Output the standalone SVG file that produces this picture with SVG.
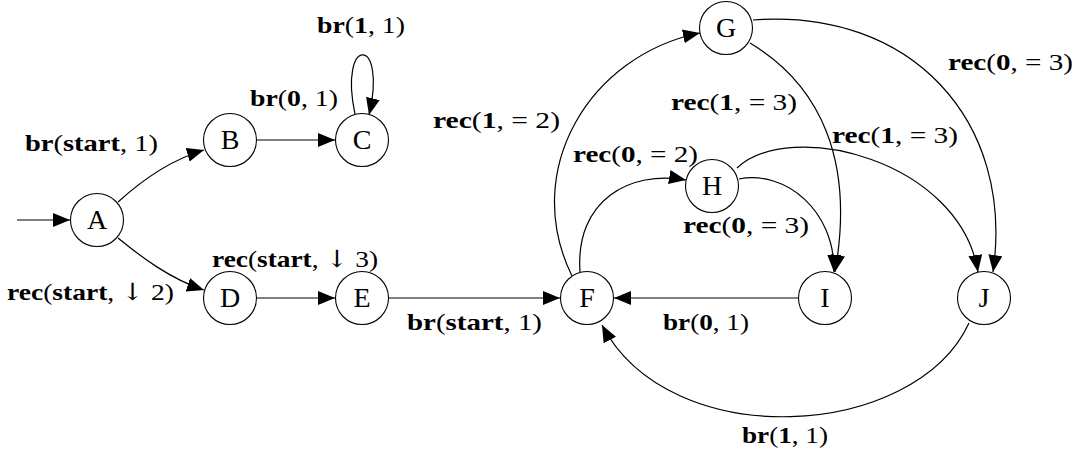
<svg xmlns="http://www.w3.org/2000/svg" width="1076" height="457" viewBox="0 0 1076 457">
<style>
.node circle{fill:#fff;stroke:#000;stroke-width:1.1}
.node text{font-family:"Liberation Serif",serif;font-size:28px;text-anchor:middle;fill:#000}
.edge{fill:none;stroke:#000;stroke-width:1.2;marker-end:url(#ah)}
.lbl{font-family:"Liberation Serif","DejaVu Serif",serif;font-size:24px;fill:#000}
.b{font-weight:bold}
.ar{font-family:"DejaVu Serif",serif;font-size:24px}
</style>
<defs>
<marker id="ah" markerUnits="userSpaceOnUse" markerWidth="17" markerHeight="14" refX="17" refY="7" orient="auto" viewBox="0 0 17 14">
<path d="M0,0 L17,7 L0,14 Z" fill="#000"/>
</marker>
</defs>
<rect width="1076" height="457" fill="#fff"/>
<g id="connectors">
<path class="edge" d="M17,220 L70,220"/>
<path class="edge" d="M118,202 C140,182 170,160 204,150"/>
<path class="edge" d="M118,238 C140,256 170,279 204,290"/>
<path class="edge" d="M257,140 L335,140"/>
<path class="edge" d="M355,114 C338,35 388,35 369,115"/>
<path class="edge" d="M257,298 L335,298"/>
<path class="edge" d="M389,298 L560,298"/>
<path class="edge" d="M798,298 L614,298"/>
<path class="edge" d="M969,323 C915,440 670,455 602,325"/>
<path class="edge" d="M572,276 C520,170 590,55 700,33"/>
<path class="edge" d="M580,272 C575,200 630,170 686,180"/>
<path class="edge" d="M750,43 C820,85 855,160 835,272"/>
<path class="edge" d="M739,179 C785,170 835,210 834,272"/>
<path class="edge" d="M737,168 C790,118 960,160 978,272"/>
<path class="edge" d="M753,20 C910,8 1015,120 993,272"/>
<text class="lbl" x="25" y="151" textLength="133" lengthAdjust="spacingAndGlyphs"><tspan class="b">br</tspan>(<tspan class="b">start</tspan>, 1)</text>
<text class="lbl" x="250" y="106" textLength="88" lengthAdjust="spacingAndGlyphs"><tspan class="b">br</tspan>(<tspan class="b">0</tspan>, 1)</text>
<text class="lbl" x="317" y="33" textLength="88" lengthAdjust="spacingAndGlyphs"><tspan class="b">br</tspan>(<tspan class="b">1</tspan>, 1)</text>
<text class="lbl" x="7" y="300" textLength="167" lengthAdjust="spacingAndGlyphs"><tspan class="b">rec</tspan>(<tspan class="b">start</tspan>, <tspan class="ar">↓</tspan> 2)</text>
<text class="lbl" x="212" y="267" textLength="166" lengthAdjust="spacingAndGlyphs"><tspan class="b">rec</tspan>(<tspan class="b">start</tspan>, <tspan class="ar">↓</tspan> 3)</text>
<text class="lbl" x="407" y="330" textLength="135" lengthAdjust="spacingAndGlyphs"><tspan class="b">br</tspan>(<tspan class="b">start</tspan>, 1)</text>
<text class="lbl" x="663" y="330" textLength="86" lengthAdjust="spacingAndGlyphs"><tspan class="b">br</tspan>(<tspan class="b">0</tspan>, 1)</text>
<text class="lbl" x="742" y="443" textLength="86" lengthAdjust="spacingAndGlyphs"><tspan class="b">br</tspan>(<tspan class="b">1</tspan>, 1)</text>
<text class="lbl" x="433" y="128" textLength="127" lengthAdjust="spacingAndGlyphs"><tspan class="b">rec</tspan>(<tspan class="b">1</tspan>, = 2)</text>
<text class="lbl" x="573" y="162" textLength="125" lengthAdjust="spacingAndGlyphs"><tspan class="b">rec</tspan>(<tspan class="b">0</tspan>, = 2)</text>
<text class="lbl" x="671" y="110" textLength="126" lengthAdjust="spacingAndGlyphs"><tspan class="b">rec</tspan>(<tspan class="b">1</tspan>, = 3)</text>
<text class="lbl" x="832" y="143" textLength="126" lengthAdjust="spacingAndGlyphs"><tspan class="b">rec</tspan>(<tspan class="b">1</tspan>, = 3)</text>
<text class="lbl" x="948" y="70" textLength="125" lengthAdjust="spacingAndGlyphs"><tspan class="b">rec</tspan>(<tspan class="b">0</tspan>, = 3)</text>
<text class="lbl" x="683" y="233" textLength="126" lengthAdjust="spacingAndGlyphs"><tspan class="b">rec</tspan>(<tspan class="b">0</tspan>, = 3)</text>
</g>
<g id="node-A" class="node"><circle cx="97" cy="220" r="26.5"/><text x="97" y="229">A</text></g>
<g id="node-B" class="node"><circle cx="230" cy="140" r="26.5"/><text x="230" y="149">B</text></g>
<g id="node-C" class="node"><circle cx="362" cy="140" r="26.5"/><text x="362" y="149">C</text></g>
<g id="node-D" class="node"><circle cx="230" cy="298" r="26.5"/><text x="230" y="307">D</text></g>
<g id="node-E" class="node"><circle cx="362" cy="298" r="26.5"/><text x="362" y="307">E</text></g>
<g id="node-F" class="node"><circle cx="587" cy="298" r="26.5"/><text x="587" y="307">F</text></g>
<g id="node-G" class="node"><circle cx="726" cy="28" r="26.5"/><text x="726" y="37">G</text></g>
<g id="node-H" class="node"><circle cx="712" cy="186" r="26.5"/><text x="712" y="195">H</text></g>
<g id="node-I" class="node"><circle cx="825" cy="298" r="26.5"/><text x="825" y="307">I</text></g>
<g id="node-J" class="node"><circle cx="984" cy="298" r="26.5"/><text x="984" y="307">J</text></g>
</svg>
